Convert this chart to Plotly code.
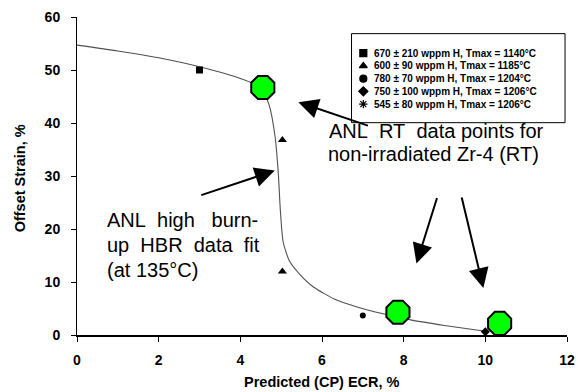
import plotly.graph_objects as go

# ---- data ----
fit_x = [0, 1, 2, 3, 4, 4.5, 4.7, 4.85, 4.93, 4.98, 5.05, 5.2, 5.45, 5.8, 6.3, 6.9, 7.5, 8.2, 9.0, 10.0]
fit_y = [54.7, 53.6, 52.3, 50.6, 48.4, 46.7, 43.5, 37.5, 30.5, 23.5, 17.5, 14.0, 11.5, 9.0, 6.8, 5.2, 4.0, 2.8, 1.8, 0.7]

rt_x = [4.55, 7.86, 10.35]
rt_y = [46.7, 4.3, 2.2]

sq_x, sq_y = [3.0], [50.0]
tri_x, tri_y = [5.03, 5.03], [36.8, 12.0]
circ_x, circ_y = [7.0], [3.7]
dia_x, dia_y = [10.0], [0.6]

legend_labels = [
    "670 ± 210 wppm H, Tmax = 1140°C",
    "600 ± 90 wppm H, Tmax = 1185°C",
    "780 ± 70 wppm H, Tmax = 1204°C",
    "750 ± 100 wppm H, Tmax = 1206°C",
    "545 ± 80 wppm H, Tmax = 1206°C",
]
legend_symbols = ["square", "triangle-up", "circle", "diamond", "asterisk-open"]

x_ticks = [0, 2, 4, 6, 8, 10, 12]
y_ticks = [0, 10, 20, 30, 40, 50, 60]

FONT = "Liberation Sans, Arial, sans-serif"

# plot-area geometry (pixels)
W, H = 584, 392
L, R, T, B = 77, 575, 10, 335

def px(xp):
    return (xp - L) / (R - L)

def py(yp):
    return (B - yp) / (B - T)

fig = go.Figure()

fig.add_trace(go.Scatter(x=fit_x, y=fit_y, mode="lines",
                         line=dict(color="#505050", width=1.1, shape="spline", smoothing=0.6),
                         hoverinfo="skip"))
fig.add_trace(go.Scatter(x=sq_x, y=sq_y, mode="markers",
                         marker=dict(symbol="square", size=7, color="black")))
fig.add_trace(go.Scatter(x=tri_x, y=tri_y, mode="markers",
                         marker=dict(symbol="triangle-up", size=8, color="black")))
fig.add_trace(go.Scatter(x=circ_x, y=circ_y, mode="markers",
                         marker=dict(symbol="circle", size=6, color="black")))
fig.add_trace(go.Scatter(x=dia_x, y=dia_y, mode="markers",
                         marker=dict(symbol="diamond", size=7, color="black")))
fig.add_trace(go.Scatter(x=rt_x, y=rt_y, mode="markers",
                         marker=dict(symbol="octagon", size=25, color="#00FF00",
                                     line=dict(color="black", width=2))))

# legend (custom, on an overlay axis spanning the plot area in paper units)
row_y = [py(47 + 13 * i) for i in range(len(legend_labels))]
fig.add_trace(go.Scatter(x=[px(368)] * len(legend_labels), y=row_y, mode="markers",
                         xaxis="x2", yaxis="y2",
                         marker=dict(symbol=legend_symbols, size=7, color="black",
                                     line=dict(color="black", width=1.2))))
annotations = []
for lab, yy in zip(legend_labels, row_y):
    annotations.append(dict(x=px(377), y=yy, xref="paper", yref="paper", text="<b>" + lab + "</b>",
                            showarrow=False, xanchor="left", yanchor="middle",
                            font=dict(family=FONT, size=10, color="black")))

fig.add_shape(type="rect", xref="paper", yref="paper",
              x0=px(356), x1=px(573), y0=py(118), y1=py(27),
              line=dict(color="black", width=1), fillcolor="rgba(0,0,0,0)")

# arrows: (head pixel), (tail pixel)
arrows = [
    ((302, 97), (373, 121)),
    ((278, 167), (203, 192)),
    ((422, 262), (443, 195)),
    ((490, 287), (468, 195)),
]
for (hx, hy), (tx, ty) in arrows:
    annotations.append(dict(x=px(hx), y=py(hy), ax=tx - hx, ay=ty - hy, xref="paper", yref="paper",
                            axref="pixel", ayref="pixel", text="", showarrow=True,
                            arrowhead=2, arrowsize=2.0, arrowwidth=2, arrowcolor="black",
                            standoff=0, startstandoff=0))

NB = "\u00a0"
text_lines = [
    ("ANL" + NB * 2 + "RT" + NB * 2 + "data" + NB + "points" + NB + "for", 331, 126),
    ("non-irradiated Zr-4 (RT)", 330, 150),
    ("ANL" + NB * 2 + "high" + NB * 3 + "burn-", 105, 217),
    ("up" + NB * 2 + "HBR" + NB * 2 + "data" + NB * 2 + "fit", 105, 243),
    ("(at 135°C)", 105, 269),
]
for t, x0, y0 in text_lines:
    annotations.append(dict(x=px(x0), y=py(y0), xref="paper", yref="paper", text=t,
                            showarrow=False, xanchor="left", yanchor="middle",
                            font=dict(family=FONT, size=20, color="black")))

annotations.append(dict(x=px(20), y=py(175), xref="paper", yref="paper", text="<b>Offset Strain, %</b>",
                        textangle=-90, showarrow=False, xanchor="center", yanchor="middle",
                        font=dict(family=FONT, size=14.5, color="black")))
annotations.append(dict(x=px(326), y=py(383), xref="paper", yref="paper", text="<b>Predicted (CP) ECR, %</b>",
                        showarrow=False, xanchor="center", yanchor="middle",
                        font=dict(family=FONT, size=14.5, color="black")))

fig.update_layout(
    width=W, height=H,
    margin=dict(l=L, r=W - R, t=T, b=H - B, pad=0),
    paper_bgcolor="white", plot_bgcolor="white",
    showlegend=False,
    font=dict(family=FONT, color="black"),
    annotations=annotations,
    xaxis=dict(range=[0, 12], tickvals=x_ticks, ticktext=["<b>%d</b>" % v for v in x_ticks],
               showgrid=False, zeroline=False, showline=True, linecolor="black", linewidth=2,
               ticks="outside", ticklen=5, tickwidth=1, tickcolor="black",
               tickfont=dict(family=FONT, size=14, color="black"), ticklabelstandoff=6),
    yaxis=dict(range=[0, 60], tickvals=y_ticks, ticktext=["<b>%d</b>" % v for v in y_ticks],
               showgrid=False, zeroline=False, showline=True, linecolor="black", linewidth=1,
               ticks="outside", ticklen=5, tickwidth=1, tickcolor="black",
               tickfont=dict(family=FONT, size=14, color="black"), ticklabelstandoff=8),
    xaxis2=dict(range=[0, 1], overlaying="x", visible=False),
    yaxis2=dict(range=[0, 1], overlaying="y", visible=False),
)

fig.write_html("out.html")
